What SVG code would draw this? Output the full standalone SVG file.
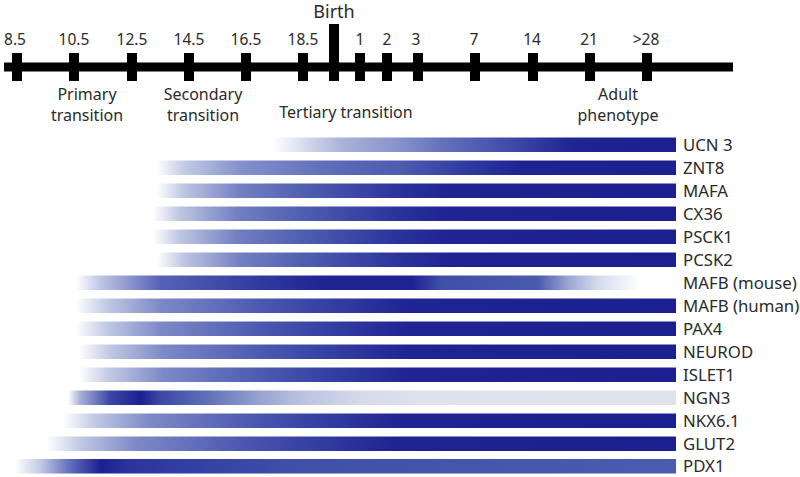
<svg xmlns="http://www.w3.org/2000/svg" width="800" height="477" viewBox="0 0 800 477">
<defs>
<style>
.t{font-family:"Noto Sans","Open Sans",sans-serif;fill:#2a2a2a}
.n{font-size:15.5px;text-anchor:middle}
.c{font-size:16px;text-anchor:middle}
.g{font-size:16.8px}
.k{fill:#000}
</style>
<linearGradient id="ramp" x1="0" y1="0" x2="1" y2="0">
<stop offset="0" stop-color="#ffffff"/>
<stop offset="0.05" stop-color="#c3cae5"/>
<stop offset="0.14" stop-color="#7d8ac7"/>
<stop offset="0.31" stop-color="#4a58b0"/>
<stop offset="0.42" stop-color="#3440a2"/>
<stop offset="0.55" stop-color="#1f2492"/>
<stop offset="1" stop-color="#1c1f8f"/>
</linearGradient>
<linearGradient id="znt" x1="0" y1="0" x2="1" y2="0">
<stop offset="0" stop-color="#ffffff"/>
<stop offset="0.05" stop-color="#c5cce6"/>
<stop offset="0.16" stop-color="#8591cb"/>
<stop offset="0.35" stop-color="#5b69b8"/>
<stop offset="0.47" stop-color="#4c5caf"/>
<stop offset="0.6" stop-color="#2f3aa0"/>
<stop offset="0.7" stop-color="#1f2392"/>
<stop offset="1" stop-color="#1c1f8f"/>
</linearGradient>
<linearGradient id="rampB" x1="0" y1="0" x2="1" y2="0">
<stop offset="0" stop-color="#ffffff"/>
<stop offset="0.05" stop-color="#c0c7e3"/>
<stop offset="0.16" stop-color="#7280c2"/>
<stop offset="0.28" stop-color="#5060b0"/>
<stop offset="0.36" stop-color="#3f4ca8"/>
<stop offset="0.47" stop-color="#2a339b"/>
<stop offset="0.56" stop-color="#1f2492"/>
<stop offset="1" stop-color="#1c1f8f"/>
</linearGradient>
<linearGradient id="ucn" x1="0" y1="0" x2="1" y2="0">
<stop offset="0" stop-color="#ffffff"/>
<stop offset="0.08" stop-color="#d5daee"/>
<stop offset="0.17" stop-color="#aab3da"/>
<stop offset="0.32" stop-color="#8590ca"/>
<stop offset="0.41" stop-color="#6674bd"/>
<stop offset="0.55" stop-color="#4654ad"/>
<stop offset="0.75" stop-color="#1f2391"/>
<stop offset="1" stop-color="#1c1f8f"/>
</linearGradient>
<linearGradient id="mouse" x1="0" y1="0" x2="1" y2="0">
<stop offset="0" stop-color="#ffffff"/>
<stop offset="0.04" stop-color="#c0c7e3"/>
<stop offset="0.14" stop-color="#5563b6"/>
<stop offset="0.31" stop-color="#2f3a9f"/>
<stop offset="0.42" stop-color="#1e2292"/>
<stop offset="0.56" stop-color="#1e2292"/>
<stop offset="0.61" stop-color="#4050aa"/>
<stop offset="0.77" stop-color="#4a5aae"/>
<stop offset="0.82" stop-color="#9aa5d3"/>
<stop offset="0.87" stop-color="#d5dbee"/>
<stop offset="0.94" stop-color="#ffffff"/>
<stop offset="1" stop-color="#ffffff"/>
</linearGradient>
<linearGradient id="ngn" x1="0" y1="0" x2="1" y2="0">
<stop offset="0" stop-color="#ffffff"/>
<stop offset="0.02" stop-color="#a8b0d8"/>
<stop offset="0.07" stop-color="#3a45a5"/>
<stop offset="0.12" stop-color="#1c1f92"/>
<stop offset="0.15" stop-color="#3a46a5"/>
<stop offset="0.23" stop-color="#6070b8"/>
<stop offset="0.32" stop-color="#9aa6d2"/>
<stop offset="0.38" stop-color="#b9c1df"/>
<stop offset="0.48" stop-color="#d5d9ea"/>
<stop offset="0.58" stop-color="#dfe2ec"/>
<stop offset="1" stop-color="#e1e3ec"/>
</linearGradient>
<linearGradient id="pdx" x1="0" y1="0" x2="1" y2="0">
<stop offset="0" stop-color="#ffffff"/>
<stop offset="0.04" stop-color="#c0c7e3"/>
<stop offset="0.08" stop-color="#6674bd"/>
<stop offset="0.13" stop-color="#1c1f92"/>
<stop offset="0.17" stop-color="#2a349c"/>
<stop offset="0.28" stop-color="#3441a3"/>
<stop offset="0.43" stop-color="#4050aa"/>
<stop offset="1" stop-color="#4a5cb0"/>
</linearGradient>
</defs>

<g id="timeline">
<rect class="k" x="4" y="62.5" width="729" height="9"/>
<rect class="k" x="12" y="53" width="10" height="28"/>
<rect class="k" x="69" y="53" width="10" height="28"/>
<rect class="k" x="127" y="53" width="10" height="28"/>
<rect class="k" x="184" y="53" width="10" height="28"/>
<rect class="k" x="241" y="53" width="10" height="28"/>
<rect class="k" x="298" y="53" width="10" height="28"/>
<rect class="k" x="329" y="24" width="10" height="57"/>
<rect class="k" x="355" y="53" width="10" height="28"/>
<rect class="k" x="382" y="53" width="10" height="28"/>
<rect class="k" x="413" y="53" width="10" height="28"/>
<rect class="k" x="470" y="53" width="10" height="28"/>
<rect class="k" x="528" y="53" width="10" height="28"/>
<rect class="k" x="585" y="53" width="10" height="28"/>
<rect class="k" x="642" y="53" width="10" height="28"/>
<text class="t n" x="15" y="45">8.5</text>
<text class="t n" x="74" y="45">10.5</text>
<text class="t n" x="132" y="45">12.5</text>
<text class="t n" x="189" y="45">14.5</text>
<text class="t n" x="246" y="45">16.5</text>
<text class="t n" x="303" y="45">18.5</text>
<text class="t n" x="360" y="45">1</text>
<text class="t n" x="387" y="45">2</text>
<text class="t n" x="416" y="45">3</text>
<text class="t n" x="474" y="45">7</text>
<text class="t n" x="532" y="45">14</text>
<text class="t n" x="589" y="45">21</text>
<text class="t n" x="646" y="45">&gt;28</text>
<text class="t" x="334" y="18" font-size="18" text-anchor="middle">Birth</text>
</g>

<g id="phases">
<text class="t c" x="87" y="100">Primary</text>
<text class="t c" x="87" y="121">transition</text>
<text class="t c" x="203" y="100">Secondary</text>
<text class="t c" x="203" y="121">transition</text>
<text class="t c" x="346" y="118">Tertiary transition</text>
<text class="t c" x="618" y="100">Adult</text>
<text class="t c" x="618" y="121">phenotype</text>
</g>

<g id="ucn3"><rect x="273" y="137.5" width="403" height="14.5" fill="url(#ucn)"/><text class="t g" x="683" y="150.5">UCN 3</text></g>
<g id="znt8"><rect x="157" y="160.5" width="519" height="14.5" fill="url(#znt)"/><text class="t g" x="683" y="173.5">ZNT8</text></g>
<g id="mafa"><rect x="157" y="183.5" width="519" height="14.5" fill="url(#rampB)"/><text class="t g" x="683" y="196.5">MAFA</text></g>
<g id="cx36"><rect x="153" y="206.5" width="523" height="14.5" fill="url(#rampB)"/><text class="t g" x="683" y="219.5">CX36</text></g>
<g id="psck1"><rect x="153" y="229.5" width="523" height="14.5" fill="url(#rampB)"/><text class="t g" x="683" y="242.5">PSCK1</text></g>
<g id="pcsk2"><rect x="157" y="252.5" width="519" height="14.5" fill="url(#rampB)"/><text class="t g" x="683" y="265.5">PCSK2</text></g>
<g id="mafb-mouse"><rect x="76" y="275.5" width="600" height="14.5" fill="url(#mouse)"/><text class="t g" x="683" y="288.5">MAFB (mouse)</text></g>
<g id="mafb-human"><rect x="76" y="298.5" width="600" height="14.5" fill="url(#ramp)"/><text class="t g" x="683" y="311.5">MAFB (human)</text></g>
<g id="pax4"><rect x="76" y="321.5" width="600" height="14.5" fill="url(#ramp)"/><text class="t g" x="683" y="334.5">PAX4</text></g>
<g id="neurod"><rect x="79" y="344.5" width="597" height="14.5" fill="url(#ramp)"/><text class="t g" x="683" y="357.5">NEUROD</text></g>
<g id="islet1"><rect x="79" y="367.5" width="597" height="14.5" fill="url(#ramp)"/><text class="t g" x="683" y="380.5">ISLET1</text></g>
<g id="ngn3"><rect x="68" y="390.5" width="608" height="14.5" fill="url(#ngn)"/><text class="t g" x="683" y="403.5">NGN3</text></g>
<g id="nkx61"><rect x="63" y="413.5" width="613" height="14.5" fill="url(#ramp)"/><text class="t g" x="683" y="426.5">NKX6.1</text></g>
<g id="glut2"><rect x="47" y="436.5" width="629" height="14.5" fill="url(#ramp)"/><text class="t g" x="683" y="449.5">GLUT2</text></g>
<g id="pdx1"><rect x="15" y="459" width="661" height="14.5" fill="url(#pdx)"/><text class="t g" x="683" y="472">PDX1</text></g>
</svg>
